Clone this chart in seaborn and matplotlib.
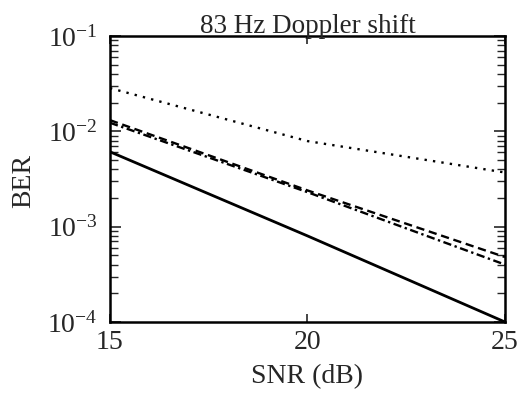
import numpy as np
import pandas as pd
import seaborn as sns
import matplotlib
matplotlib.use("Agg")
import matplotlib.pyplot as plt
from matplotlib.ticker import LogLocator, NullFormatter

# data
snr = [15, 20, 25]
ber_solid = [0.0061, 0.00080, 0.0001]
ber_dashed = [0.0131, 0.0024, 0.00048]
ber_dashdot = [0.0123, 0.0023, 0.00040]
ber_dotted = [0.0284, 0.0079, 0.0037]
series = ["solid", "dashed", "dashdot", "dotted"]
styles = {"solid": "-", "dashed": (0, (3.5, 2)), "dashdot": (0, (3.5, 1.5, 1, 1.5)), "dotted": (0, (1, 2.6))}

df = pd.DataFrame({
	"SNR": snr * 4,
	"BER": ber_solid + ber_dashed + ber_dashdot + ber_dotted,
	"curve": [s for s in series for _ in snr],
})

sns.set_theme(style="white")
plt.rcParams["font.family"] = ["Liberation Serif", "DejaVu Serif"]
plt.rcParams["mathtext.fontset"] = "custom"
plt.rcParams["mathtext.rm"] = "Liberation Serif"
plt.rcParams["mathtext.it"] = "Liberation Serif:italic"
plt.rcParams["mathtext.default"] = "rm"

fig = plt.figure(figsize=(5.2, 3.93), dpi=100)
ax = fig.add_axes([0.2115, 0.1807, 0.7596, 0.7277])

for name in series:
	sub = df[df["curve"] == name]
	sns.lineplot(data=sub, x="SNR", y="BER", ax=ax, color="black",
				 linewidth=2.0 if name == "solid" else 1.7, linestyle=styles[name])

ax.set_yscale("log")
ax.set_xlim(15, 25)
ax.set_ylim(1e-4, 1e-1)
ax.set_xticks([15, 20, 25])
ax.set_xticklabels(["15", "20", "25"], fontsize=20)
ax.set_yticks([1e-4, 1e-3, 1e-2, 1e-1])
ax.set_yticklabels([r"$10^{-4}$", r"$10^{-3}$", r"$10^{-2}$", r"$10^{-1}$"], fontsize=20)
ax.yaxis.set_minor_locator(LogLocator(base=10, subs=np.arange(2, 10)))
ax.yaxis.set_minor_formatter(NullFormatter())
ax.tick_params(axis="x", which="major", direction="in", length=6, width=1.2,
			   top=True, bottom=True, pad=6)
ax.tick_params(axis="y", which="major", direction="in", length=8, width=1.2,
			   left=True, right=True, pad=9)
ax.tick_params(axis="y", which="minor", direction="in", length=6, width=1,
			   left=True, right=True)

for spine in ax.spines.values():
	spine.set_visible(True)
	spine.set_linewidth(1.8)
	spine.set_color("black")

ax.set_xlabel("SNR (dB)", fontsize=20, labelpad=6)
ax.set_ylabel("BER", fontsize=20)
ax.yaxis.set_label_coords(-0.187, 0.493)
ax.set_title("83 Hz Doppler shift", fontsize=19.5, pad=2)

plt.savefig("out.png", dpi=100)
